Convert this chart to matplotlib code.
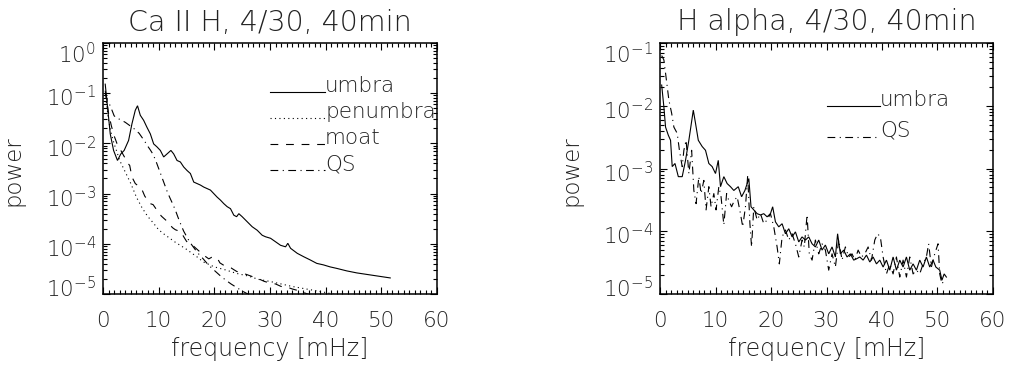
import numpy as np
import matplotlib
matplotlib.use("Agg")
import matplotlib.pyplot as plt
from matplotlib.ticker import FixedLocator, NullFormatter
import matplotlib.transforms as mtransforms

plt.rcParams['font.family'] = ['DejaVu Sans']
plt.rcParams['font.weight'] = 'ultralight'
plt.rcParams['axes.titleweight'] = 'ultralight'
plt.rcParams['axes.labelweight'] = 'ultralight'
plt.rcParams['mathtext.fontset'] = 'dejavusans'

# ---------------- data (log10 of power) ----------------
titles = ["Ca II H, 4/30, 40min", "H alpha, 4/30, 40min"]
xlabel = "frequency [mHz]"
ylabel = "power"
xticks = [0, 10, 20, 30, 40, 50, 60]

# Ca II H panel
ca_umbra_f = [0.4, 0.7, 1.3, 1.9, 2.6, 3.2, 3.8, 4.6, 5.2, 5.8, 6.2, 6.7, 7.3, 7.9, 8.5, 9.1, 9.7,
              10.3, 10.9, 11.5, 12.2, 12.7, 13.3, 13.9, 14.5, 15.1, 15.7, 16.3, 16.9, 17.5, 18.1,
              18.7, 19.3, 19.9, 20.5, 21.1, 21.7, 22.3, 22.9, 23.5, 24.0, 24.4, 25.0, 25.9, 26.8,
              27.7, 28.6, 29.2, 30.1, 31.0, 31.9, 32.8, 33.2, 33.7, 34.9, 36.1, 37.2, 38.4, 39.6,
              40.8, 42.0, 43.8, 45.6, 47.4, 49.2, 51.6]
ca_umbra_lp = [-0.82, -1.15, -1.81, -2.14, -2.34, -2.21, -2.14, -1.94, -1.61, -1.34, -1.25, -1.44,
               -1.54, -1.68, -1.81, -2.01, -2.07, -2.14, -2.27, -2.21, -2.14, -2.21, -2.34, -2.37,
               -2.47, -2.54, -2.60, -2.77, -2.80, -2.83, -2.87, -2.90, -2.93, -3.00, -3.07, -3.13,
               -3.20, -3.26, -3.30, -3.43, -3.46, -3.40, -3.46, -3.56, -3.66, -3.73, -3.83, -3.86,
               -3.89, -3.96, -4.03, -4.06, -3.99, -4.09, -4.19, -4.26, -4.32, -4.39, -4.42, -4.46,
               -4.49, -4.54, -4.58, -4.61, -4.64, -4.68]

ca_penumbra_f = [0.4, 1.0, 1.5, 2.0, 2.5, 3.0, 4.0, 5.0, 6.0, 7.0, 8.0, 9.0, 10, 11, 12, 13, 14, 15,
                 16, 17, 18, 19, 20, 22, 24, 26, 28, 30, 32, 34, 36, 38, 40, 42, 44]
ca_penumbra_lp = [-1.00, -1.54, -1.81, -2.01, -2.17, -2.34, -2.57, -2.80, -3.07, -3.28, -3.45, -3.58,
                  -3.72, -3.81, -3.89, -3.97, -4.04, -4.11, -4.19, -4.27, -4.36, -4.41, -4.46, -4.52,
                  -4.59, -4.64, -4.71, -4.75, -4.80, -4.85, -4.89, -4.93, -4.97, -5.02, -5.06]

ca_moat_f = [0.4, 1.0, 1.5, 2.0, 2.5, 3.0, 3.5, 4.0, 4.5, 4.8, 5.2, 5.8, 6.6, 7.0, 7.5, 8.0, 8.5,
             9.0, 9.5, 10.0, 10.5, 11.0, 11.5, 12.0, 12.5, 13.0, 13.5, 14.0, 14.5, 15.0, 15.5,
             16.0, 17.0, 18.0, 19.0, 19.5, 20.0, 20.5, 21.0, 22.0, 23.0, 24.0, 25.0, 26.0, 27.0,
             28.0, 29.0, 30.0, 31.0, 32.0, 33.0, 34.0, 35.0, 36.0, 37.0, 38.0]
ca_moat_lp = [-0.95, -1.40, -1.65, -1.85, -2.00, -2.10, -2.20, -2.30, -2.40, -2.44, -2.67, -2.80,
              -2.87, -2.92, -3.05, -3.13, -3.20, -3.22, -3.30, -3.38, -3.45, -3.50, -3.55, -3.62,
              -3.68, -3.72, -3.74, -3.76, -3.86, -3.95, -4.00, -4.02, -4.12, -4.22, -4.30, -4.27,
              -4.27, -4.28, -4.38, -4.45, -4.48, -4.55, -4.58, -4.62, -4.66, -4.70, -4.75, -4.78,
              -4.80, -4.85, -4.86, -4.90, -4.93, -4.97, -5.01, -5.05]

ca_qs_f = [0.4, 0.8, 1.3, 2.0, 2.5, 3.0, 3.5, 4.0, 4.5, 5.0, 5.5, 6.0, 6.5, 7.0, 7.5, 8.0, 8.5, 9.0,
           9.5, 10.0, 10.5, 11.0, 11.5, 12.0, 12.5, 13.0, 13.5, 14.0, 14.5, 15.0, 15.5, 16.0, 17.0,
           18.0, 19.0, 20.0, 21.0, 22.0, 23.0, 24.0, 25.0, 26.0, 27.0]
ca_qs_lp = [-1.00, -1.15, -1.25, -1.45, -1.50, -1.52, -1.55, -1.58, -1.62, -1.66, -1.70, -1.75,
            -1.80, -1.88, -1.96, -2.05, -2.13, -2.22, -2.35, -2.50, -2.65, -2.80, -2.95, -3.08,
            -3.20, -3.33, -3.48, -3.62, -3.75, -3.85, -3.95, -4.03, -4.18, -4.30, -4.43, -4.53,
            -4.63, -4.72, -4.80, -4.87, -4.94, -5.00, -5.06]

# H alpha panel
ha_umbra_f = [0.3, 0.7, 1.0, 1.5, 1.9, 2.2, 2.7, 3.3, 4.0, 4.6, 5.2, 6.0, 6.4, 6.9, 7.6, 8.2, 8.8,
              9.4, 10.0, 10.5, 10.9, 11.5, 12.1, 12.7, 13.3, 14.1, 14.7, 15.3, 16.0, 16.4, 16.9,
              17.5, 18.1, 18.7, 19.3, 19.9, 20.3, 20.8, 21.4, 22.0, 22.6, 23.2, 23.8, 24.4, 25.0,
              25.6, 26.2, 26.8, 27.4, 28.0, 28.6, 29.2, 29.8, 30.4, 31.0, 31.6, 32.0, 32.5, 33.1,
              33.7, 34.3, 34.9, 35.4, 36.0, 36.6, 37.2, 37.8, 38.4, 39.0, 39.6, 40.2, 40.8, 41.4,
              42.0, 42.6, 43.2, 43.8, 44.4, 45.0, 45.6, 46.2, 46.8, 47.4, 48.0, 48.6, 49.2, 49.7,
              50.4, 50.8, 51.2, 51.6]
ha_umbra_lp = [-1.67, -2.02, -2.34, -2.47, -2.55, -2.97, -2.92, -3.13, -3.13, -2.87, -2.55, -2.07,
               -2.28, -2.55, -2.65, -2.71, -2.92, -2.97, -3.08, -2.87, -3.29, -3.13, -3.24, -3.29,
               -3.35, -3.29, -3.45, -3.35, -3.16, -3.61, -3.66, -3.72, -3.74, -3.72, -3.77, -3.72,
               -3.61, -3.85, -3.93, -3.88, -4.04, -3.96, -4.09, -4.01, -4.17, -4.09, -4.14, -4.09,
               -4.20, -4.25, -4.14, -4.30, -4.22, -4.36, -4.25, -4.41, -4.04, -4.36, -4.30, -4.41,
               -4.36, -4.46, -4.44, -4.41, -4.46, -4.38, -4.49, -4.41, -4.52, -4.46, -4.57, -4.46,
               -4.62, -4.41, -4.62, -4.46, -4.57, -4.41, -4.62, -4.52, -4.62, -4.46, -4.57, -4.41,
               -4.57, -4.46, -4.57, -4.62, -4.78, -4.68, -4.73]

ha_qs_f = [0.3, 0.7, 1.0, 1.6, 2.1, 2.5, 3.1, 3.5, 4.0, 4.3, 4.7, 5.2, 5.7, 6.1, 6.5, 7.0, 7.4, 7.9,
           8.3, 8.8, 9.2, 9.7, 10.1, 10.6, 11.0, 11.5, 12.0, 12.4, 12.9, 13.4, 13.9, 14.5, 14.9,
           15.4, 15.8, 16.2, 16.5, 16.9, 17.5, 18.1, 18.7, 19.3, 19.9, 20.5, 21.1, 21.5, 22.0,
           22.6, 23.2, 23.8, 24.4, 25.0, 25.6, 26.0, 26.5, 26.9, 27.4, 28.0, 28.6, 29.2, 29.8,
           30.4, 31.0, 31.6, 32.2, 32.8, 33.4, 34.0, 34.6, 35.1, 35.7, 36.3, 36.9, 37.5, 38.1,
           38.7, 39.2, 39.7, 40.2, 40.8, 41.4, 42.0, 42.6, 43.2, 43.8, 44.4, 45.0, 45.6, 46.2,
           46.8, 47.4, 48.0, 48.4, 48.9, 49.5, 50.1, 50.4, 50.8, 51.2]
ha_qs_lp = [-1.20, -1.27, -1.48, -1.91, -2.12, -2.34, -2.44, -2.71, -2.97, -2.71, -2.55, -3.08,
            -2.71, -3.35, -3.56, -3.13, -3.40, -3.19, -3.66, -3.29, -3.61, -3.40, -3.66, -3.29,
            -3.45, -3.90, -3.40, -3.51, -3.61, -3.51, -3.45, -3.72, -3.93, -3.61, -3.11, -3.88,
            -4.25, -3.61, -3.82, -3.72, -3.88, -3.82, -3.72, -3.93, -4.25, -4.52, -4.09, -3.98,
            -4.14, -4.04, -4.20, -4.41, -4.14, -4.25, -3.74, -4.36, -4.46, -4.14, -4.36, -4.20,
            -4.30, -4.62, -4.36, -4.57, -4.14, -4.46, -4.25, -4.41, -4.36, -4.46, -4.30, -4.41,
            -4.36, -4.25, -4.46, -4.14, -4.04, -4.09, -4.41, -4.68, -4.52, -4.68, -4.41, -4.73,
            -4.46, -4.73, -4.41, -4.68, -4.62, -4.68, -4.52, -4.41, -4.20, -4.57, -4.36, -4.20,
            -4.68, -4.84, -4.78]

ca_series = [("umbra", ca_umbra_f, ca_umbra_lp, "solid"),
             ("penumbra", ca_penumbra_f, ca_penumbra_lp, "dotted"),
             ("moat", ca_moat_f, ca_moat_lp, "dashed"),
             ("QS", ca_qs_f, ca_qs_lp, "dashdot")]
ha_series = [("umbra", ha_umbra_f, ha_umbra_lp, "solid"),
             ("QS", ha_qs_f, ha_qs_lp, "dashdot")]
ylims = [(1e-5, 1e0), (1e-5, 1e-1)]

# ---------------- styling ----------------
styles = {"solid": "-", "dotted": (0, (1, 3)), "dashed": (0, (7, 7)), "dashdot": (0, (7, 4, 1, 4))}
LW = 0.8
TXT = "#222222"

W, H = 1009, 369
fig = plt.figure(figsize=(W / 100, H / 100), dpi=100)
ax_rects = [(103 / W, (H - 294) / H, 334 / W, 251 / H),
            (660 / W, (H - 294) / H, 333 / W, 251 / H)]
legend_layout = [dict(x0=0.50, x1=0.665, y0=0.803, dy=0.1033),
                 dict(x0=0.50, x1=0.66, y0=0.749, dy=0.122)]


def sci_label(v):
    e = int(round(np.log10(v)))
    return r"$\mathregular{10^{%d}}$" % e


for i, (series, title, ylim, rect, lg) in enumerate(
        zip([ca_series, ha_series], titles, ylims, ax_rects, legend_layout)):
    ax = fig.add_axes(rect)
    for name, f, lp, st in series:
        ax.plot(f, 10 ** np.asarray(lp), color="black", lw=LW, linestyle=styles[st],
                solid_joinstyle="miter")
    ax.set_yscale("log")
    ax.set_xlim(0, 60)
    ax.set_ylim(*ylim)
    ax.xaxis.set_major_locator(FixedLocator(xticks))
    ax.xaxis.set_minor_locator(FixedLocator(np.arange(xticks[0], xticks[-1] + 1, 1)))
    e0, e1 = int(np.log10(ylim[0])), int(np.log10(ylim[1]))
    majors = [10.0 ** e for e in range(e0, e1 + 1)]
    minors = [m * 10.0 ** e for e in range(e0, e1) for m in range(2, 10)]
    ax.yaxis.set_major_locator(FixedLocator(majors))
    ax.yaxis.set_minor_locator(FixedLocator(minors))
    ax.yaxis.set_minor_formatter(NullFormatter())
    ax.set_yticklabels([sci_label(v) for v in majors])
    ax.set_xticklabels([str(t) for t in xticks])
    ax.tick_params(which="both", direction="in", top=True, right=True, width=0.8, color="black")
    ax.tick_params(which="major", length=5)
    ax.tick_params(which="minor", length=2.6)
    ax.tick_params(axis="x", which="major", pad=12, labelsize=15.5, labelcolor=TXT)
    ax.tick_params(axis="y", which="major", pad=5, labelsize=15.5, labelcolor=TXT)
    for sp in ax.spines.values():
        sp.set_linewidth(1.1)

    # shift boundary y labels inward (IDL style)
    yticks_objs = ax.yaxis.get_major_ticks()
    for k, tk in enumerate(yticks_objs[:len(majors)]):
        if k == 0:
            dy = 5
        elif k == len(majors) - 1:
            dy = -7
        else:
            dy = -2
        off = mtransforms.ScaledTranslation(0, dy / 72, fig.dpi_scale_trans)
        tk.label1.set_transform(tk.label1.get_transform() + off)

    ax.set_title(title, fontsize=20.5, pad=9, color=TXT, fontweight="ultralight")
    ax.set_xlabel(xlabel, fontsize=17, color=TXT, fontweight="ultralight")
    ax.xaxis.set_label_coords(0.5, -0.172)
    ax.xaxis.label.set_va("top")
    ax.set_ylabel(ylabel, fontsize=16.5, color=TXT, fontweight="ultralight")
    ax.yaxis.set_label_coords(-0.234, 0.49)

    # IDL-style legend drawn inside the axes
    for j, (name, f, lp, st) in enumerate(series):
        yy = lg["y0"] - j * lg["dy"]
        ax.plot([lg["x0"], lg["x1"]], [yy, yy], transform=ax.transAxes, color="black",
                lw=LW, linestyle=styles[st], clip_on=False)
        ax.text(lg["x1"], yy, name, transform=ax.transAxes, fontsize=15.5, color=TXT,
                fontweight="ultralight", va="baseline", ha="left")

fig.savefig("out.png", dpi=100)
